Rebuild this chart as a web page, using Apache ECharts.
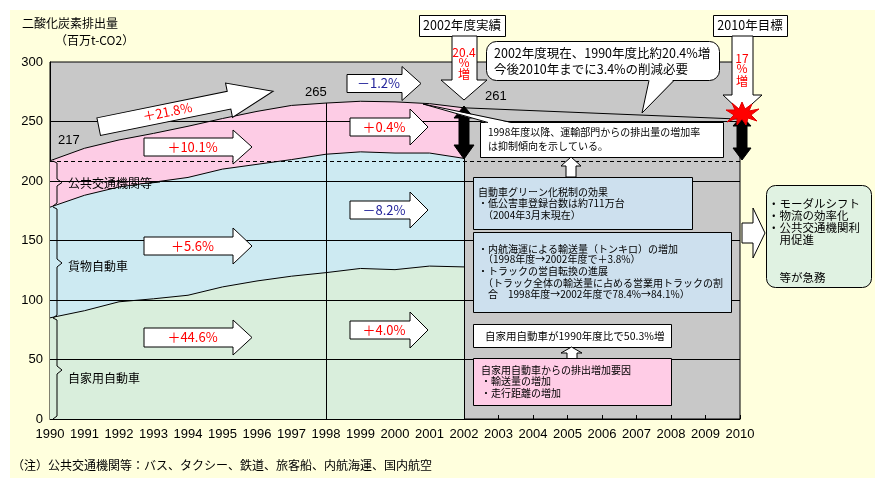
<!DOCTYPE html>
<html><head><meta charset="utf-8">
<script src="https://cdn.jsdelivr.net/npm/echarts@6/dist/echarts.min.js"></script>
<style>
html,body{margin:0;padding:0;background:#fff;}
#wrap{position:relative;width:885px;height:489px;overflow:hidden;}
#bg{position:absolute;left:10px;top:10px;width:865px;height:468px;background:#ffffdd;}
#chart{position:absolute;left:0;top:0;width:885px;height:489px;}
</style></head><body>
<div id="wrap"><div id="bg"></div><div id="chart"></div></div>
<script>
// ---- data ----
const years = [1990,1991,1992,1993,1994,1995,1996,1997,1998,1999,2000,2001,2002];
const privateCars     = [85, 91, 98.5, 101, 104, 111, 116, 120, 123, 126.5, 125.5, 128.5, 127.8];
const freightTrucks   = [93, 97, 96.5, 98, 99, 99, 98, 98, 99.5, 98, 98, 95, 91.2];
const publicTransport = [39, 39.5, 39.5, 41, 43, 42.5, 44.5, 45.5, 43, 42.5, 43, 41.5, 42.5];
const targetYears  = [2002, 2010];
const targetValues = [261.5, 252];
const base1990 = 217;
const yMin = 0, yMax = 300, yStep = 50;
const xMin = 1990, xMax = 2010;
const gridValues = [50, 100, 150, 200, 250];

// cumulative stacks (bottom to top)
const cumPrivate = privateCars.slice();
const cumFreight = years.map((y,i)=>privateCars[i]+freightTrucks[i]);
const totals     = years.map((y,i)=>privateCars[i]+freightTrucks[i]+publicTransport[i]);
const total1998 = totals[years.indexOf(1998)];
const total2002 = totals[years.indexOf(2002)];

const JP = '"Noto Sans CJK JP"';
const NUM = '"Liberation Sans", Arial';

// ---- annotation helpers ----
const G = [];
let zc = 100;
function add(el){ if(el.z==null) el.z = zc++; el.silent = true; G.push(el); return el; }
function poly(points, fill, stroke, lw, extra){ return add(Object.assign({type:'polygon', shape:{points}, style:{fill, stroke: stroke===undefined?'#000':stroke, lineWidth: lw==null?1:lw}}, extra||{})); }
function line(points, stroke, lw){ return add({type:'polyline', shape:{points}, style:{fill:null, stroke: stroke||'#000', lineWidth: lw||1}}); }
function box(x,y,w,h,fill,r){ return add({type:'rect', shape:{x:x+0.5,y:y+0.5,width:w,height:h,r:r||0}, style:{fill, stroke:'#000', lineWidth:1}}); }
function text(x,y,t,o){ o=o||{}; return add({type:'text', x, y, rotation:o.rot||0,
  style:{text:t, fill:o.color||'#000', font:(o.size||12)+'px '+(o.family||JP),
    textAlign:o.align||'left', textVerticalAlign:'middle', align:o.align||'left', verticalAlign:'middle'}}); }
function hArrow(x0,xn,xt,yc,bh,hh){ return [[x0,yc-bh],[xn,yc-bh],[xn,yc-hh],[xt,yc],[xn,yc+hh],[xn,yc+bh],[x0,yc+bh]]; }
const RED = '#ff0000', BLUE = '#22229a';

// title
text(22, 23, '二酸化炭素排出量', {size:12});
text(55, 40, '（百万t-CO2）', {size:12});

// rotated +21.8% arrow
const ang = 11.5*Math.PI/180;
poly(hArrow(0,133,178,0,9,17.5), '#fff', '#000', 1, {x:98.7, y:126.7, rotation:ang});
text(98.7+70*Math.cos(ang), 126.7-70*Math.sin(ang)-1, '＋21.8%', {color:RED, size:13, align:'center', rot:ang});

// horizontal arrows
const arrows = [
  [144,233,252,147,9,17,'＋10.1%',RED],
  [144,233,252,246,9,18,'＋5.6%',RED],
  [144,233,252,337.5,9.5,17.5,'＋44.6%',RED],
  [347,402,421,83.5,9,17,'－1.2%',BLUE],
  [350,410,428,127,9,18,'＋0.4%',RED],
  [350,410,428,210,9,18,'－8.2%',BLUE],
  [350,410,428,330,9,18,'＋4.0%',RED]
];
arrows.forEach(a=>{ poly(hArrow(a[0],a[1],a[2],a[3],a[4],a[5]), '#fff'); text((a[0]+a[1])/2+4, a[3], a[6], {color:a[7], size:13, align:'center'}); });

// value labels
text(58, 140, '217', {size:13, family:NUM});
text(305, 92, '265', {size:13, family:NUM});
text(485, 96, '261', {size:13, family:NUM});

// braces and category labels
line([[53,161],[57,163],[57,179],[62,182.5],[57,186],[57,203],[53,206]]);
line([[150,183],[160,182]]);
line([[53,207],[57,209],[57,259],[62,263],[57,267],[57,315],[53,318]]);
line([[53,318],[57,320],[57,366],[62,370],[57,374],[57,416],[53,419]]);
text(68, 183, '公共交通機関等', {size:12});
text(68, 266, '貨物自動車', {size:12});
text(68, 378, '自家用自動車', {size:12});

// 2002 result box + down arrow
box(419, 15, 86, 21, '#fff');
text(462, 25.5, '2002年度実績', {size:12.5, align:'center'});
poly([[452,36],[477,36],[477,80],[487,80],[464,100],[441,80],[452,80]], '#fff');
text(464, 52, '20.4', {size:12, color:RED, align:'center'});
text(464, 62.5, '%', {size:12, color:RED, align:'center'});
text(464, 74, '増', {size:12, color:RED, align:'center'});

// 2010 target box + down arrow
box(713, 15, 74, 21, '#fff');
text(750, 25.5, '2010年目標', {size:12.5, align:'center'});
poly([[732,36],[753,36],[753,95],[762,95],[742,113],[723,95],[732,95]], '#fff');
text(742, 58, '17', {size:12, color:RED, align:'center'});
text(742, 68, '%', {size:12, color:RED, align:'center'});
text(742, 81, '増', {size:12, color:RED, align:'center'});

// black double arrows
poly([[464,106],[474,118],[469,118],[469,145],[474,145],[464,159],[454,145],[459,145],[459,118],[454,118]], '#000', '#000', 1);
poly([[742,116],[751,126],[747,126],[747,148],[751,148],[742,160],[733,148],[737,148],[737,126],[733,126]], '#000', '#000', 1);
// explosion
poly([[-16,-4],[-7,-4],[-10,-11],[-3,-5],[0,-12],[3,-5],[10,-10],[7,-3],[17,-5],[9,1],[15,7],[6,4],[4,11],[0,5],[-5,11],[-5,4],[-15,8],[-8,1]].map(p=>[742+p[0],114+p[1]]), '#ff0000', '#e00000', 1);

// speech bubble
box(486, 41, 233, 39, '#fff', 10);
poly([[649,79],[674,79],[642,113]], '#fff', null, 0);
line([[649,80.5],[642,113],[674,80.5]]);
text(494, 53, '2002年度現在、1990年度比約20.4%増', {size:12.5});
text(494, 69, '今後2010年までに3.4%の削減必要', {size:12.5});

// 1998 callout
box(480, 122, 243, 35, '#fff');
poly([[488,123],[512,123],[423,104]], '#fff', null, 0);
line([[488,122.5],[423,104],[512,122.5]]);
text(488, 132, '1998年度以降、運輸部門からの排出量の増加率', {size:10});
text(488, 146, 'は抑制傾向を示している。', {size:10});

// up arrow between callout and green-tax box
poly([[571,157],[581,166],[576,166],[576,177],[566,177],[566,166],[561,166]], '#fff');

// green tax box
box(473, 177, 219, 52, '#cde0ee');
text(478, 192, '自動車グリーン化税制の効果', {size:10});
text(478, 203.5, '・低公害車登録台数は約711万台', {size:10});
text(478, 215, '　（2004年3月末現在）', {size:10});

// freight box
box(473, 232, 258, 80, '#cde0ee');
text(478, 249.5, '・内航海運による輸送量（トンキロ）の増加', {size:10});
text(478, 259.5, '　（1998年度→2002年度で＋3.8%）', {size:10});
text(478, 271, '・トラックの営自転換の進展', {size:10});
text(478, 283, '　（トラック全体の輸送量に占める営業用トラックの割', {size:10});
text(478, 294, '　合　1998年度→2002年度で78.4%→84.1%）', {size:10});

// private car boxes
box(473, 324, 198, 23, '#fff');
text(485, 336, '自家用自動車が1990年度比で50.3%増', {size:10.5});
poly([[571.5,347],[582,353],[577,353],[577,359],[567,359],[567,353],[561,353]], '#fff');
box(473, 358, 198, 47, '#ffcce6');
text(481, 370, '自家用自動車からの排出増加要因', {size:10});
text(481, 381.5, '・輸送量の増加', {size:10});
text(481, 393, '・走行距離の増加', {size:10});

// right arrow + conclusion box
poly(hArrow(742,753,765,233,10,25), '#fff');
box(766, 185, 105, 102, '#e0f2e2', 9);
text(768, 204, '・モーダルシフト', {size:11.5});
text(768, 216, '・物流の効率化', {size:11.5});
text(768, 228, '・公共交通機関利', {size:11.5});
text(768, 240, '　用促進', {size:11.5});
text(768, 278, '　等が急務', {size:11.5});

// note
text(12, 465, '（注）公共交通機関等：バス、タクシー、鉄道、旅客船、内航海運、国内航空', {size:12});

// ---- chart ----
const chart = echarts.init(document.getElementById('chart'), null, {renderer:'canvas'});
const pair = arr => years.map((y,i)=>[y, arr[i]]);
const areaSeries = (name, arr, color, z) => ({
  name, type:'line', data: pair(arr), symbol:'none', smooth:false,
  lineStyle:{color:'#000', width:1}, areaStyle:{color, opacity:1, origin:'start'}, z, silent:true
});
const gridLines = gridValues.map(v=>[{coord:[xMin,v]},{coord:[xMax,v]}]);
chart.setOption({
  animation:false,
  backgroundColor:'transparent',
  grid:{left:50, right:145, top:62, bottom:70, show:true, backgroundColor:'#c8c8c8', borderColor:'#000', borderWidth:1, containLabel:false},
  xAxis:{type:'value', min:xMin, max:xMax, interval:1,
    axisLine:{show:true, lineStyle:{color:'#000'}},
    axisTick:{show:true, inside:true, length:4, lineStyle:{color:'#000'}},
    axisLabel:{color:'#000', fontSize:13, fontFamily:NUM, margin:9, formatter:v=>String(v)},
    splitLine:{show:false}},
  yAxis:{type:'value', min:yMin, max:yMax, interval:yStep,
    axisLine:{show:true, lineStyle:{color:'#000'}},
    axisTick:{show:false},
    axisLabel:{color:'#000', fontSize:13, fontFamily:NUM, margin:7},
    splitLine:{show:false}},
  series:[
    areaSeries('公共交通機関等', totals, '#fdcce5', 2),
    areaSeries('貨物自動車', cumFreight, '#cdeaf2', 3),
    areaSeries('自家用自動車', cumPrivate, '#d9eedc', 4),
    {name:'目標', type:'line', data: targetYears.map((y,i)=>[y,targetValues[i]]), symbol:'none',
      lineStyle:{color:'#000', width:1}, z:4, silent:true},
    {name:'refs', type:'line', data:[], z:6, silent:true,
      markLine:{symbol:'none', silent:true, label:{show:false}, lineStyle:{color:'#000', width:1, type:'solid'},
        data: gridLines.concat([
          [{coord:[1998,0]},{coord:[1998,total1998]}],
          [{coord:[2002,0]},{coord:[2002,total2002]}],
          [{coord:[xMin,base1990], lineStyle:{type:[4,3], color:'#000', width:1}},{coord:[xMax,base1990]}]
        ])}}
  ],
  graphic: G
});
</script>
</body></html>
